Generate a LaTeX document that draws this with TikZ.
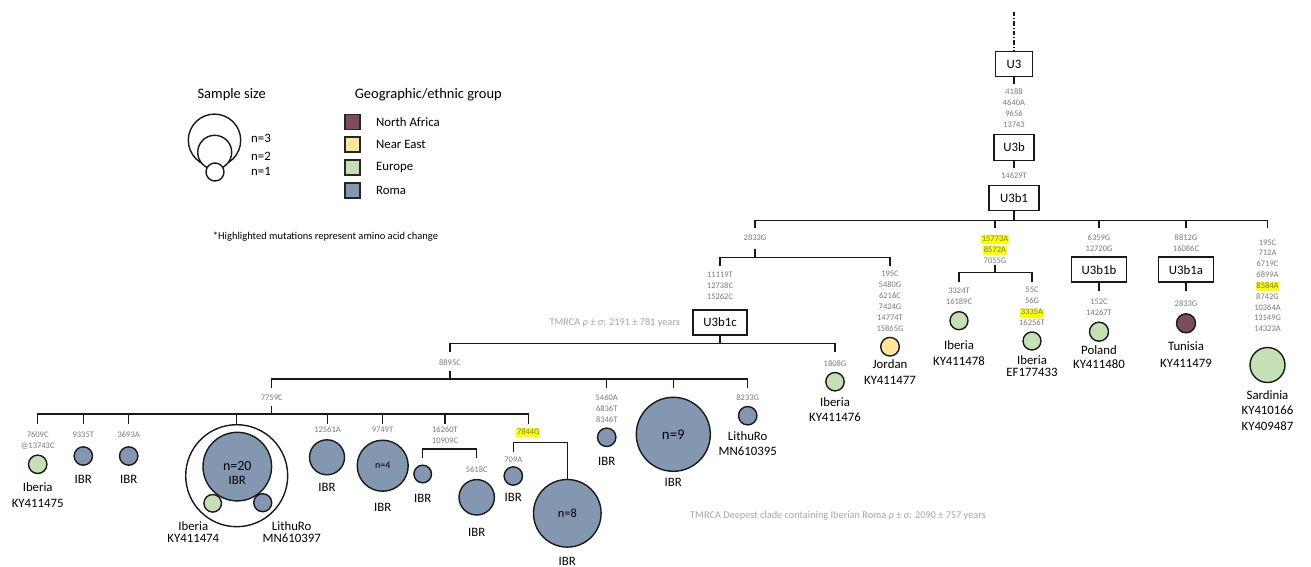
\documentclass[tikz,border=0pt]{standalone}
\usepackage{fontspec}
\setmainfont{Carlito}
\definecolor{roma}{HTML}{8497B0}
\definecolor{europe}{HTML}{C5E0B4}
\definecolor{neast}{HTML}{FFE699}
\definecolor{nafr}{HTML}{7D4A5E}
\definecolor{mutgrey}{HTML}{7A7A7A}
\definecolor{tmgrey}{HTML}{A5A5A5}
\definecolor{hlyellow}{HTML}{FFFF00}
% amino-acid-changing mutations are set on a yellow marker
\newcommand\hlt[1]{{\setlength{\fboxsep}{0.6pt}\colorbox{hlyellow}{\rule[-2.3pt]{0pt}{7.4pt}#1}}}
\begin{document}
\begin{tikzpicture}[x=1pt,y=-1pt,
  br/.style={draw=black!90, line width=1.5pt},
  clade/.style={draw=black!90, line width=1.5pt, fill=white, inner sep=0pt,
    minimum height=25pt, font=\fontsize{12.8}{15}\selectfont},
  mut/.style={text=mutgrey, align=center, inner sep=0pt, font=\fontsize{8.5}{11}\selectfont},
  lab/.style={align=center, inner sep=0pt, font=\fontsize{12.8}{15.5}\selectfont},
  hap/.style={circle, draw=black!90, line width=1.4pt, inner sep=0pt, minimum size=#1},
  tm/.style={text=tmgrey, inner sep=0pt, font=\fontsize{10.3}{12}\selectfont},
  key/.style={draw=black!85, line width=1.2pt, minimum size=15pt, inner sep=0pt},
  head/.style={inner sep=0pt, font=\fontsize{14.5}{17}\selectfont}]
\useasboundingbox (0,0) rectangle (1311,567);

% ---------------- legend ----------------
\node[head] (ssz) at (231.7,95) {Sample size};
\node[hap=52.4pt, fill=white] (lc3) at (214.5,140.3) {};
\node[hap=34pt, fill=white] (lc2) at (214.7,152.3) {};
\node[hap=18pt, fill=white] (lc1) at (215,172) {};
\node[lab] (ln3) at (261,138.3) {n=3};
\node[lab] (ln2) at (261,156) {n=2};
\node[lab] (ln1) at (261,171) {n=1};

\node[head] (geo) at (428.3,95) {Geographic/ethnic group};
\node[key, fill=nafr] (k1) at (352.5,121.7) {};
\node[key, fill=neast] (k2) at (352.5,144.5) {};
\node[key, fill=europe] (k3) at (352.5,167.5) {};
\node[key, fill=roma] (k4) at (352.5,190.5) {};
\node[lab, anchor=west] (kl1) at (376,121.7) {North Africa};
\node[lab, anchor=west] (kl2) at (376,144.5) {Near East};
\node[lab, anchor=west] (kl3) at (376,167.5) {Europe};
\node[lab, anchor=west] (kl4) at (376,190.5) {Roma};

\node[inner sep=0pt, font=\fontsize{10.5}{12}\selectfont] (note) at (325.5,236.7)
  {*Highlighted mutations represent amino acid change};

% ---------------- U3 -> U3b -> U3b1 ----------------
\coordinate (root) at (1014,12);
\node[clade, minimum width=37pt] (u3) at (1014,64) {U3};
\draw[br, dash pattern=on 4.5pt off 2pt on 1pt off 2pt] (root) -- (u3);
\coordinate (u3e) at (1014,84);
\draw[br] (u3) -- (u3e);
\node[mut] (mu3) at (1014,108.5) {4188\\4640A\\9656\\13743};
\node[clade, minimum width=40pt, minimum height=26pt] (u3b) at (1014,147.5) {U3b};
\coordinate (u3be) at (1014,168);
\draw[br] (u3b) -- (u3be);
\node[mut] (mu3b) at (1014,175.5) {14629T};
\node[clade, minimum width=50pt] (u3b1) at (1014,198) {U3b1};

% first split below U3b1
\coordinate (s1) at (1014,220.5);
\coordinate (d1) at (755,228);
\coordinate (d2) at (995,228);
\coordinate (d3) at (1099,228);
\coordinate (d4) at (1186,228);
\coordinate (d5) at (1267.5,228);
\draw[br] (u3b1) -- (s1);
\draw[br] (d1) |- (s1) -| (d5);
\draw[br] (d2) -- (d2 |- s1);
\draw[br] (d3) -- (d3 |- s1);
\draw[br] (d4) -- (d4 |- s1);

% branch 2833G
\node[mut] (m1) at (755,237.7) {2833G};
\coordinate (a1) at (755,249);
\coordinate (s2) at (755,257.7);
\draw[br] (a1) -- (s2);
\coordinate (d11) at (720,265.7);
\coordinate (d12) at (890,265.7);
\draw[br] (d11) |- (s2) -| (d12);
\node[mut] (m11) at (720,285.5) {11119T\\12738C\\15262C};
\node[clade, minimum width=54pt] (u3b1c) at (720,322.5) {U3b1c};
\node[mut] (m12) at (890,301.5) {195C\\5480G\\6216C\\7424G\\14774T\\15865G};
\node[hap=18.6pt, fill=neast] (jor) at (890,346.7) {};
\node[lab] (ljor) at (890,372) {Jordan\\KY411477};

% branch 15773A
\node[mut] (m2) at (995,249) {\hlt{15773A}\\\hlt{8572A}\\7055G};
\coordinate (a2) at (995,265);
\coordinate (s3) at (995,272.7);
\draw[br] (a2) -- (s3);
\coordinate (d21) at (959,281.7);
\coordinate (d22) at (1032,281.7);
\draw[br] (d21) |- (s3) -| (d22);
\node[mut] (m21) at (959,296.2) {3324T\\16189C};
\node[hap=18pt, fill=europe] (ib78) at (959,320.7) {};
\node[lab] (lib78) at (959,353.3) {Iberia\\KY411478};
\node[mut] (m22) at (1032,306.5) {55C\\56G\\\hlt{3335A}\\16256T};
\node[hap=18pt, fill=europe] (ib33) at (1032,341) {};
\node[lab] (lib33) at (1032,366) {Iberia\\[-3.5pt]EF177433};

% branch U3b1b
\node[mut] (m3) at (1099,243.3) {6359G\\12720G};
\node[clade, minimum width=55pt] (u3b1b) at (1099,269.7) {U3b1b};
\coordinate (a3) at (1099,291);
\draw[br] (u3b1b) -- (a3);
\node[mut] (m31) at (1099,307.3) {152C\\14267T};
\node[hap=19pt, fill=europe] (pol) at (1099,331.7) {};
\node[lab] (lpol) at (1099,357) {Poland\\[-1pt]KY411480};

% branch U3b1a
\node[mut] (m4) at (1186,243.3) {8812G\\16086C};
\node[clade, minimum width=55pt] (u3b1a) at (1186,269.7) {U3b1a};
\coordinate (a4) at (1186,291);
\draw[br] (u3b1a) -- (a4);
\node[mut] (m41) at (1186,303.3) {2833G};
\node[hap=19pt, fill=nafr] (tun) at (1186,323.3) {};
\node[lab] (ltun) at (1186,354.5) {Tunisia\\[2pt]KY411479};

% branch Sardinia
\node[mut, font=\fontsize{8.5}{10.85}\selectfont] (m5) at (1267.5,285.7)
  {195C\\712A\\6719C\\6899A\\\hlt{8584A}\\8742G\\10364A\\13149G\\14323A};
\node[hap=35pt, fill=europe] (sar) at (1267.5,365) {};
\node[lab] (lsar) at (1267.5,410.5) {Sardinia\\KY410166\\KY409487};

% ---------------- U3b1c ----------------
\node[tm, anchor=east] (tm1) at (680,323.3) {TMRCA {\itshape ρ} ± {\itshape σ}: 2191 ± 781 years};
\coordinate (s4) at (720,343.3);
\draw[br] (u3b1c) -- (s4);
\coordinate (c41) at (450,351.7);
\coordinate (c42) at (835,351.7);
\draw[br] (c41) |- (s4) -| (c42);
\node[mut] (m1808) at (835,363.3) {1808G};
\node[hap=18.4pt, fill=europe] (ib76) at (835,381.7) {};
\node[lab] (lib76) at (835,409.2) {Iberia\\[-0.5pt]KY411476};

\node[mut] (m8895) at (450,362.3) {8895C};
\coordinate (a5) at (450,370.7);
\coordinate (s5) at (450,379);
\draw[br] (a5) -- (s5);
\coordinate (e1) at (271.7,387.5);
\coordinate (e2) at (606.7,387.5);
\coordinate (e3) at (673.3,387.5);
\coordinate (e4) at (747.7,387.5);
\draw[br] (e1) |- (s5) -| (e4);
\draw[br] (e2) -- (e2 |- s5);
\draw[br] (e3) -- (e3 |- s5);

\node[mut] (m5460) at (606.7,408.2) {5460A\\6836T\\8346T};
\node[hap=18.4pt, fill=roma] (c5460) at (606.7,437.3) {};
\node[lab] (l5460) at (606.7,461.7) {IBR};
\node[hap=74pt, fill=roma, font=\fontsize{14.8}{16}\selectfont] (n9) at (673.3,434.3) {n=9};
\node[lab] (ln9) at (673.3,482.3) {IBR};
\node[mut] (m8233) at (747.7,397.3) {8233G};
\node[hap=18.4pt, fill=roma] (c8233) at (747.7,415.7) {};
\node[lab] (l8233) at (747.7,443.5) {LithuRo\\[-0.5pt]MN610395};

% clade 7759C
\node[mut] (m7759) at (271.7,397.3) {7759C};
\coordinate (a6) at (271.7,405.7);
\coordinate (s6) at (271.7,414);
\draw[br] (a6) -- (s6);

\node[mut] (m7609) at (37.7,440.8) {7609C\\@13743C};
\node[hap=18.4pt, fill=europe] (ib75) at (37.7,464.3) {};
\node[lab] (lib75) at (37.7,495.3) {Iberia\\[0.5pt]KY411475};

\node[mut] (m9335) at (83.3,435) {9335T};
\node[hap=18.4pt, fill=roma] (c9335) at (83.3,456) {};
\node[lab] (l9335) at (83.3,479) {IBR};

\node[mut] (m3693) at (128.7,435) {3693A};
\node[hap=18.4pt, fill=roma] (c3693) at (128.7,456) {};
\node[lab] (l3693) at (128.7,479) {IBR};

\node[hap=102pt] (outer) at (236.7,475.7) {};
\node[hap=68.6pt, fill=roma] (n20) at (237.3,466.6) {};
\node[inner sep=0pt, font=\fontsize{14}{16}\selectfont] (tn20) at (237.3,466.2) {n=20};
\node[lab] (tn20b) at (237.3,480) {IBR};
\node[hap=17.6pt, fill=europe] (ib74) at (212.7,503.3) {};
\node[hap=18pt, fill=roma] (lr97) at (262.7,502.7) {};
\node[lab] (lib74) at (193.3,532) {Iberia\\[-3pt]KY411474};
\node[lab] (llr97) at (291.7,532) {LithuRo\\[-3pt]MN610397};

\node[mut] (m12561) at (327.5,430) {12561A};
\node[hap=35pt, fill=roma] (c12561) at (327,457.3) {};
\node[lab] (l12561) at (327,487.3) {IBR};

\node[mut] (m9749) at (382.5,430) {9749T};
\node[hap=51pt, fill=roma, font=\fontsize{10}{12}\selectfont] (n4) at (382.7,465.7) {n=4};
\node[lab] (ln4) at (382.7,507.7) {IBR};

\node[mut] (m16260) at (445,435.3) {16260T\\10909C};
\coordinate (s7) at (445,449);
\coordinate (g1) at (422.7,458.3);
\coordinate (g2) at (476.7,458.3);
\draw[br] (g1) |- (s7) -| (g2);
\node[hap=17.6pt, fill=roma] (cg1) at (422.7,474) {};
\node[lab] (lg1) at (422.7,498.3) {IBR};
\node[mut] (m5618) at (476.7,469.3) {5618C};
\node[hap=35.4pt, fill=roma] (cg2) at (476.7,497.3) {};
\node[lab] (lg2) at (476.7,532.3) {IBR};

\node[mut] (m7844) at (528.3,432.3) {\hlt{7844G}};
\coordinate (s8) at (528.3,442.7);
\coordinate (h1) at (513.3,451.7);
\node[mut] (m709) at (513.3,460) {709A};
\node[hap=18.4pt, fill=roma] (c709) at (513.3,476) {};
\node[lab] (l709) at (513.3,497.3) {IBR};
\node[hap=67.6pt, fill=roma, font=\fontsize{12.4}{14}\selectfont] (n8) at (567.3,513.3) {n=8};
\node[lab] (ln8) at (567.3,561.5) {IBR};
\draw[br] (h1) |- (s8) -| (n8.north);

% bar of the 7759C clade
\coordinate (f1) at (37.7,423.5);
\coordinate (f2) at (83.3,423.5);
\coordinate (f3) at (128.7,423.5);
\coordinate (f5) at (327.5,423.5);
\coordinate (f6) at (382.5,423.5);
\coordinate (f7) at (445,423.5);
\coordinate (f8) at (528.3,423.5);
\draw[br] (f1) |- (s6) -| (f8);
\draw[br] (f2) -- (f2 |- s6);
\draw[br] (f3) -- (f3 |- s6);
\draw[br] (outer.north) -- (outer.north |- s6);
\draw[br] (f5) -- (f5 |- s6);
\draw[br] (f6) -- (f6 |- s6);
\draw[br] (f7) -- (f7 |- s6);

\node[tm, anchor=west] (tm2) at (690,515.7)
  {TMRCA Deepest clade containing Iberian Roma {\itshape ρ} ± {\itshape σ}: 2090 ± 757 years};
\end{tikzpicture}
\end{document}
